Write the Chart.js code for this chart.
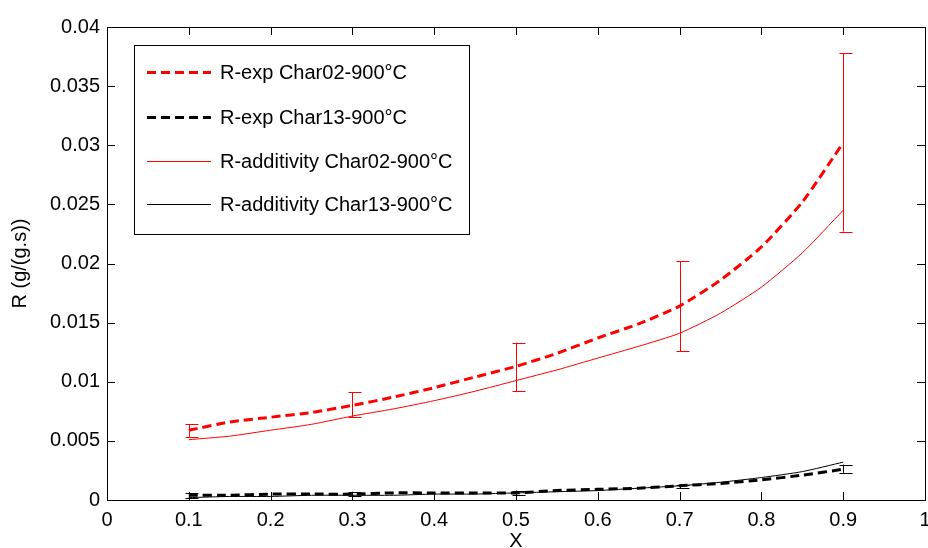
<!DOCTYPE html>
<html>
<head>
<meta charset="utf-8">
<script src="https://cdn.jsdelivr.net/npm/chart.js@4.4.1/dist/chart.umd.min.js"></script>
<style>
  html, body { margin: 0; padding: 0; background: #fff; }
  #wrap { width: 928px; height: 548px; }
</style>
</head>
<body>
<div id="wrap"><canvas id="chart" width="928" height="548"></canvas></div>
<script>
// x positions of the curves
const xs = [0.1, 0.15, 0.2, 0.25, 0.3, 0.35, 0.4, 0.45, 0.5, 0.55, 0.6, 0.65, 0.7, 0.75, 0.8, 0.85, 0.9];

const expChar02 = [0.0059, 0.0066, 0.0070, 0.0074, 0.0080, 0.0087, 0.0095, 0.0104, 0.0113, 0.0124, 0.0137, 0.0149, 0.0164, 0.0186, 0.0214, 0.0252, 0.0302];
const expChar13 = [0.0004, 0.0004, 0.0005, 0.0005, 0.0005, 0.0006, 0.0006, 0.0006, 0.0006, 0.0008, 0.0009, 0.0010, 0.0012, 0.0014, 0.0017, 0.0021, 0.0026];
const addChar02 = [0.0051, 0.0054, 0.0059, 0.0064, 0.0071, 0.0077, 0.0084, 0.0092, 0.0101, 0.0110, 0.0120, 0.0130, 0.0141, 0.0158, 0.0180, 0.0209, 0.0245];
const addChar13 = [0.0002, 0.0003, 0.0003, 0.0004, 0.0004, 0.0004, 0.0005, 0.0005, 0.0006, 0.0007, 0.0008, 0.0010, 0.0012, 0.0015, 0.0019, 0.0024, 0.0032];

// error bars (on the experimental curves)
const errX = [0.1, 0.3, 0.5, 0.7, 0.9];
const errLow02  = [0.00535, 0.0070, 0.0092, 0.0126, 0.0227];
const errHigh02 = [0.0064, 0.0091, 0.0133, 0.0202, 0.0378];
const errLow13  = [0.0002, 0.0003, 0.0004, 0.0010, 0.0023];
const errHigh13 = [0.0006, 0.0007, 0.0008, 0.0013, 0.0030];

const xTickLabels = ['0', '0.1', '0.2', '0.3', '0.4', '0.5', '0.6', '0.7', '0.8', '0.9', '1'];
const yTickLabels = ['0', '0.005', '0.01', '0.015', '0.02', '0.025', '0.03', '0.035', '0.04'];

const labels = ['R-exp Char02-900°C', 'R-exp Char13-900°C', 'R-additivity Char02-900°C', 'R-additivity Char13-900°C'];

const FONT = '"Liberation Sans", Arial, Helvetica, sans-serif';

const toPts = arr => arr.map((v, i) => ({ x: xs[i], y: v }));

// MATLAB style box with inward ticks
const boxTicks = {
  id: 'boxTicks',
  afterDraw(chart) {
    const { ctx, chartArea: a, scales } = chart;
    ctx.save();
    ctx.strokeStyle = '#000';
    ctx.lineWidth = 1;
    ctx.beginPath();
    xTickLabels.forEach((_, i) => {
      const px = Math.round(scales.x.getPixelForValue(i * 0.1)) + 0.5;
      ctx.moveTo(px, a.bottom); ctx.lineTo(px, a.bottom - 8);
      ctx.moveTo(px, a.top); ctx.lineTo(px, a.top + 8);
    });
    yTickLabels.forEach((_, i) => {
      const py = Math.round(scales.y.getPixelForValue(i * 0.005)) + 0.5;
      ctx.moveTo(a.left, py); ctx.lineTo(a.left + 8, py);
      ctx.moveTo(a.right, py); ctx.lineTo(a.right - 8, py);
    });
    ctx.stroke();
    ctx.strokeRect(Math.round(a.left) + 0.5, Math.round(a.top) + 0.5,
      Math.round(a.right - a.left), Math.round(a.bottom - a.top));
    ctx.restore();
  }
};

// error bars + legend box
const extras = {
  id: 'extras',
  afterDatasetsDraw(chart) {
    const { ctx, scales } = chart;
    ctx.save();
    const drawErr = (lo, hi, color) => {
      ctx.strokeStyle = color;
      ctx.lineWidth = 1;
      ctx.beginPath();
      errX.forEach((x, i) => {
        const px = Math.round(scales.x.getPixelForValue(x)) + 0.5;
        const y1 = scales.y.getPixelForValue(lo[i]);
        const y2 = scales.y.getPixelForValue(hi[i]);
        ctx.moveTo(px, y1); ctx.lineTo(px, y2);
        ctx.moveTo(px - 4, Math.round(y1) + 0.5); ctx.lineTo(px + 9, Math.round(y1) + 0.5);
        ctx.moveTo(px - 4, Math.round(y2) + 0.5); ctx.lineTo(px + 9, Math.round(y2) + 0.5);
      });
      ctx.stroke();
    };
    drawErr(errLow02, errHigh02, '#ff0000');
    drawErr(errLow13, errHigh13, '#000000');

    // legend
    const lx = 134.5, ly = 45.5, lw = 335, lh = 189;
    ctx.fillStyle = '#fff';
    ctx.fillRect(lx, ly, lw, lh);
    ctx.strokeStyle = '#000';
    ctx.lineWidth = 1;
    ctx.strokeRect(lx, ly, lw, lh);
    const rows = [72, 117, 161, 204];
    chart.data.datasets.forEach((ds, i) => {
      ctx.strokeStyle = ds.borderColor;
      ctx.lineWidth = ds.borderWidth;
      ctx.setLineDash(ds.borderDash || []);
      ctx.beginPath();
      ctx.moveTo(147, rows[i] + 0.5);
      ctx.lineTo(211, rows[i] + 0.5);
      ctx.stroke();
      ctx.setLineDash([]);
      ctx.fillStyle = '#000';
      ctx.font = '20px ' + FONT;
      ctx.textBaseline = 'middle';
      ctx.textAlign = 'left';
      ctx.fillText(ds.label, 220, rows[i] + 1);
    });
    ctx.restore();
  }
};

new Chart(document.getElementById('chart'), {
  type: 'line',
  data: {
    datasets: [
      { label: labels[0], data: toPts(expChar02), borderColor: '#ff0000', borderWidth: 3, borderDash: [9, 5] },
      { label: labels[1], data: toPts(expChar13), borderColor: '#000000', borderWidth: 3, borderDash: [9, 5] },
      { label: labels[2], data: toPts(addChar02), borderColor: '#ff0000', borderWidth: 1 },
      { label: labels[3], data: toPts(addChar13), borderColor: '#000000', borderWidth: 1 },
    ],
  },
  options: {
    responsive: false,
    animation: false,
    devicePixelRatio: 1,
    layout: { padding: { top: 27, right: 3, left: 0, bottom: 0 } },
    elements: { point: { radius: 0 }, line: { tension: 0.2, fill: false } },
    plugins: { legend: { display: false }, tooltip: { enabled: false } },
    scales: {
      x: {
        type: 'linear',
        min: 0, max: 1,
        grid: { display: false, drawTicks: false },
        border: { display: false },
        ticks: {
          stepSize: 0.1,
          autoSkip: false,
          maxRotation: 0,
          padding: 8,
          color: '#000',
          font: { family: FONT, size: 20 },
          callback: (v, i) => xTickLabels[i],
        },
        title: { display: true, text: 'X', color: '#000', font: { family: FONT, size: 20 }, padding: { top: 0, bottom: -5 } },
        afterFit: s => { s.height = 48; s.paddingLeft = 0; s.paddingRight = 0; },
      },
      y: {
        min: 0, max: 0.04,
        grid: { display: false, drawTicks: false },
        border: { display: false },
        ticks: {
          stepSize: 0.005,
          autoSkip: false,
          padding: 7,
          color: '#000',
          font: { family: FONT, size: 20 },
          callback: (v, i) => yTickLabels[i],
        },
        title: { display: true, text: 'R (g/(g.s))', color: '#000', font: { family: FONT, size: 20 }, padding: { top: 8, bottom: 0 } },
        afterFit: s => { s.width = 107; s.paddingTop = 0; s.paddingBottom = 0; },
      },
    },
  },
  plugins: [extras, boxTicks],
});
</script>
</body>
</html>
